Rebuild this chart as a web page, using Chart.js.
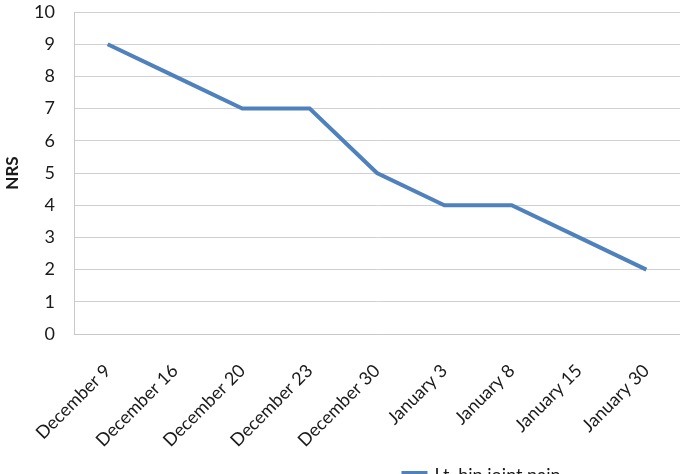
<!DOCTYPE html>
<html>
<head>
<meta charset="utf-8">
<script src="https://cdn.jsdelivr.net/npm/chart.js@4"></script>
<style>
  html, body { margin: 0; padding: 0; background: #fff; overflow: hidden; }
  #wrap { width: 680px; height: 491px; }
</style>
</head>
<body>
<div id="wrap"><canvas id="chart"></canvas></div>
<script>
// 통증 추이 (NRS)
const dates = ["December 9", "December 16", "December 20", "December 23", "December 30",
               "January 3", "January 8", "January 15", "January 30"];
const nrsValues = [9, 8, 7, 7, 5, 4, 4, 3, 2];
const yTicks = [0, 1, 2, 3, 4, 5, 6, 7, 8, 9, 10];
const seriesName = "Lt. hip joint pain";

const FONT = "Lato, 'Open Sans', sans-serif";
const TEXT = "#1a1a1a";
const PLOT_BOTTOM = 334;

// legend 위치 조정 (오른쪽 + 살짝 아래)
const legendShift = {
    id: "legendShift",
    afterLayout(chart) {
        const lg = chart.legend;
        if (!lg) return;
        lg.left += 142;
        lg.right += 142;
        lg.top += 3;
        lg.bottom += 3;
    },
};

new Chart(document.getElementById("chart"), {
    type: "line",
    data: {
        labels: dates,
        datasets: [{
            label: seriesName,
            data: nrsValues,
            borderColor: "#4f81bd",
            backgroundColor: "#4f81bd",
            borderWidth: 4,
            pointRadius: 0,
            tension: 0,
        }],
    },
    options: {
        responsive: true,
        maintainAspectRatio: false,
        animation: false,
        layout: { padding: { top: 12, right: 0, left: 0, bottom: 0 } },
        plugins: {
            legend: {
                position: "bottom",
                labels: {
                    boxWidth: 22,
                    boxHeight: 4,
                    color: TEXT,
                    font: { family: FONT, size: 18 },
                    padding: 12,
                },
            },
            tooltip: { enabled: false },
        },
        scales: {
            x: {
                offset: true,
                grid: { display: false },
                border: { display: true, color: "#c8c8c8" },
                ticks: {
                    color: TEXT,
                    font: { family: FONT, size: 18 },
                    minRotation: 45,
                    maxRotation: 45,
                    padding: 18,
                },
                afterFit(s) {
                    s.paddingLeft = 0;
                    s.paddingRight = 0;
                    const lgH = s.chart.legend ? s.chart.legend.height : 0;
                    s.height = s.chart.height - PLOT_BOTTOM - lgH;
                },
            },
            y: {
                min: 0,
                max: 10,
                afterBuildTicks(axis) { axis.ticks = yTicks.map(v => ({ value: v })); },
                grid: { color: "#d0d0d0", drawTicks: false },
                border: { display: true, color: "#c8c8c8" },
                ticks: {
                    color: TEXT,
                    font: { family: FONT, size: 18 },
                    padding: 19,
                },
                title: {
                    display: true,
                    text: "NRS",
                    color: TEXT,
                    font: { family: FONT, size: 17, weight: "bold" },
                    padding: { top: 2, bottom: 10 },
                },
                afterFit(s) {
                    s.width = 74;
                    s.paddingTop = 0;
                    s.paddingBottom = 0;
                },
            },
        },
    },
    plugins: [legendShift],
});
</script>
</body>
</html>
